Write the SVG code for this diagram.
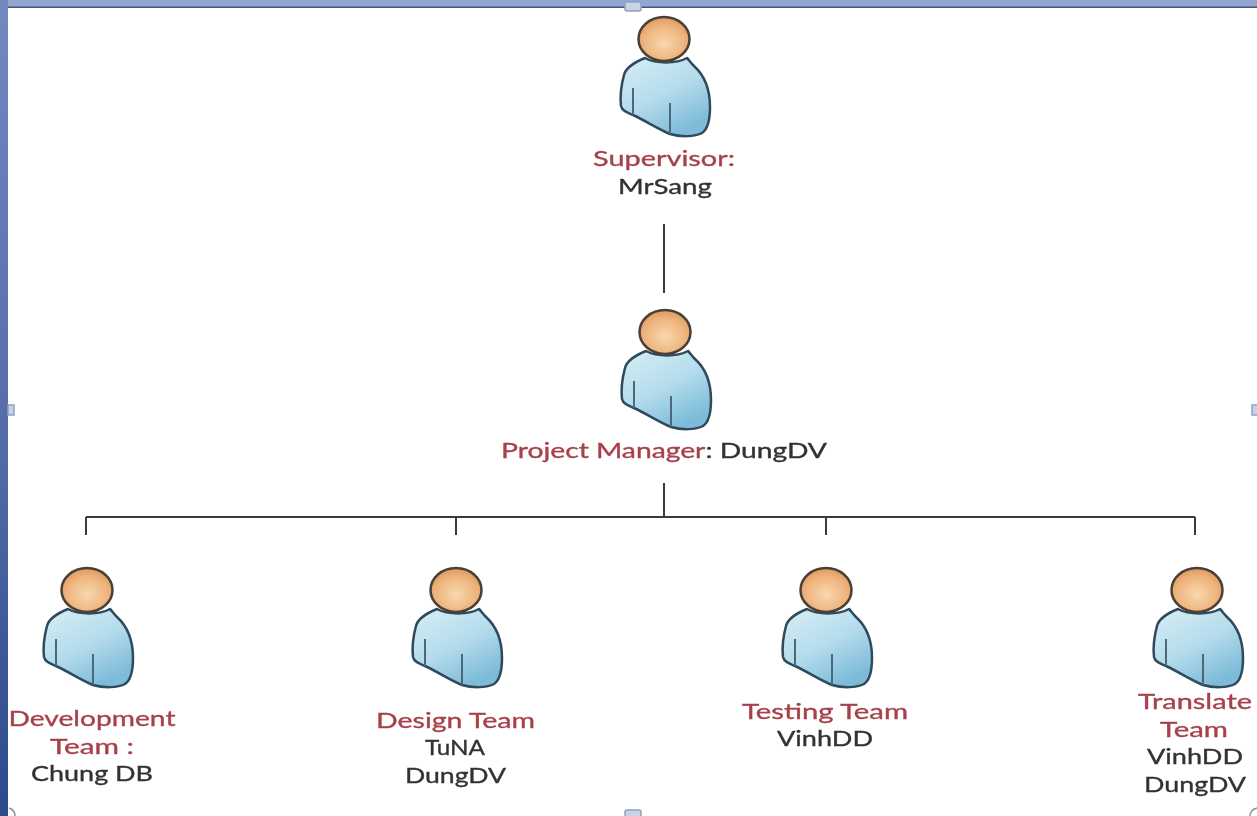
<svg xmlns="http://www.w3.org/2000/svg" width="1257" height="816" viewBox="0 0 1257 816">
<style>
text{font-family:Lato,"Liberation Sans",sans-serif;font-size:22px;text-anchor:middle;fill:#333;stroke:#333;stroke-width:.35;filter:url(#soft)}
.r{fill:#a8404a;stroke:#a8404a}
.ln{stroke:#3a3a3a;stroke-width:2;fill:none}
.hd{fill:#c9d3e6;stroke:#8fa0c4;stroke-width:1.500}
.arc{fill:none;stroke:#8a8f99;stroke-width:1.500}
.sl{fill:none;stroke:#4a6a7c;stroke-width:2}
</style>
<defs>
<linearGradient id="edge" x1="0" y1="0" x2="0" y2="1"><stop offset="0" stop-color="#7488c0"/><stop offset=".5" stop-color="#566eac"/><stop offset="1" stop-color="#2c4a8c"/></linearGradient>
<radialGradient id="head" cx=".5" cy=".6" r=".6"><stop offset="0" stop-color="#f8d8b0"/><stop offset=".7" stop-color="#eeb27a"/><stop offset="1" stop-color="#d99a60"/></radialGradient>
<linearGradient id="body" x1="0" y1="0" x2=".6" y2="1"><stop offset="0" stop-color="#d8eef4"/><stop offset=".55" stop-color="#b4dcec"/><stop offset="1" stop-color="#7dbbd9"/></linearGradient>
<filter id="soft" x="-5%" y="-20%" width="110%" height="140%"><feGaussianBlur stdDeviation="0.5"/></filter>
<g id="person">
<path d="M-19 19C-29 23-38 28-40 36C-43 47-44 58-43 67C-42 72-36 74-31 76C-18 82-6 90 6 95C16 98 31 98 38 94C44 90 46 80 46 68C46 50 40 36 30 27C27 24 25 21 23 19C12 25-8 25-19 19Z" fill="url(#body)" stroke="#2f4a5c" stroke-width="2.500" stroke-linejoin="round"/>
<path class="sl" d="M-31 49V76M6 64V95"/>
<ellipse cx="0" cy="0" rx="25.500" ry="22" fill="url(#head)" stroke="#4a4036" stroke-width="2.500"/>
</g>
</defs>
<rect width="1257" height="816" fill="#fff"/>
<rect x="0" y="0" width="1257" height="7" fill="#93a6cf"/>
<rect x="0" y="6.500" width="1257" height="1.500" fill="#45597f"/>
<rect x="0" y="0" width="8" height="816" fill="url(#edge)"/>
<g id="handles">
<rect class="hd" x="625" y="2" width="16" height="9" rx="2"/>
<rect class="hd" x="625" y="810" width="16" height="8" rx="2"/>
<rect class="hd" x="8" y="405" width="6" height="10"/>
<rect class="hd" x="1252" y="405" width="6" height="10"/>
<path class="arc" d="M9 808Q15 810 15 816M1250 816Q1250 810 1257 808"/>
</g>
<g id="connectors">
<path class="ln" d="M664 224V293M664 483V517M86 517H1195M86 517V535M456 517V535M826 517V535M1195 517V535"/>
</g>
<g id="supervisor"><use href="#person" x="664" y="39"/><text class="r" x="664" y="166" textLength="142" lengthAdjust="spacingAndGlyphs">Supervisor:</text><text x="665" y="194" textLength="94" lengthAdjust="spacingAndGlyphs">MrSang</text></g>
<g id="project-manager"><use href="#person" x="665" y="332"/><text x="664" y="458" textLength="326" lengthAdjust="spacingAndGlyphs"><tspan class="r">Project Manager</tspan>: DungDV</text></g>
<g id="development-team"><use href="#person" x="87" y="590"/><text class="r" x="92" y="726" textLength="167" lengthAdjust="spacingAndGlyphs">Development</text><text class="r" x="92" y="754" textLength="84" lengthAdjust="spacingAndGlyphs">Team :</text><text x="92" y="781" textLength="122" lengthAdjust="spacingAndGlyphs">Chung DB</text></g>
<g id="design-team"><use href="#person" x="456" y="590"/><text class="r" x="455.500" y="728" textLength="159" lengthAdjust="spacingAndGlyphs">Design Team</text><text x="455" y="755" textLength="60" lengthAdjust="spacingAndGlyphs">TuNA</text><text x="455.500" y="783" textLength="101" lengthAdjust="spacingAndGlyphs">DungDV</text></g>
<g id="testing-team"><use href="#person" x="826" y="590"/><text class="r" x="825" y="719" textLength="166" lengthAdjust="spacingAndGlyphs">Testing Team</text><text x="825" y="746" textLength="96" lengthAdjust="spacingAndGlyphs">VinhDD</text></g>
<g id="translate-team"><use href="#person" x="1197" y="590"/><text class="r" x="1195" y="709" textLength="114" lengthAdjust="spacingAndGlyphs">Translate</text><text class="r" x="1194" y="737" textLength="68" lengthAdjust="spacingAndGlyphs">Team</text><text x="1195" y="764" textLength="96" lengthAdjust="spacingAndGlyphs">VinhDD</text><text x="1195" y="792" textLength="102" lengthAdjust="spacingAndGlyphs">DungDV</text></g>
</svg>
